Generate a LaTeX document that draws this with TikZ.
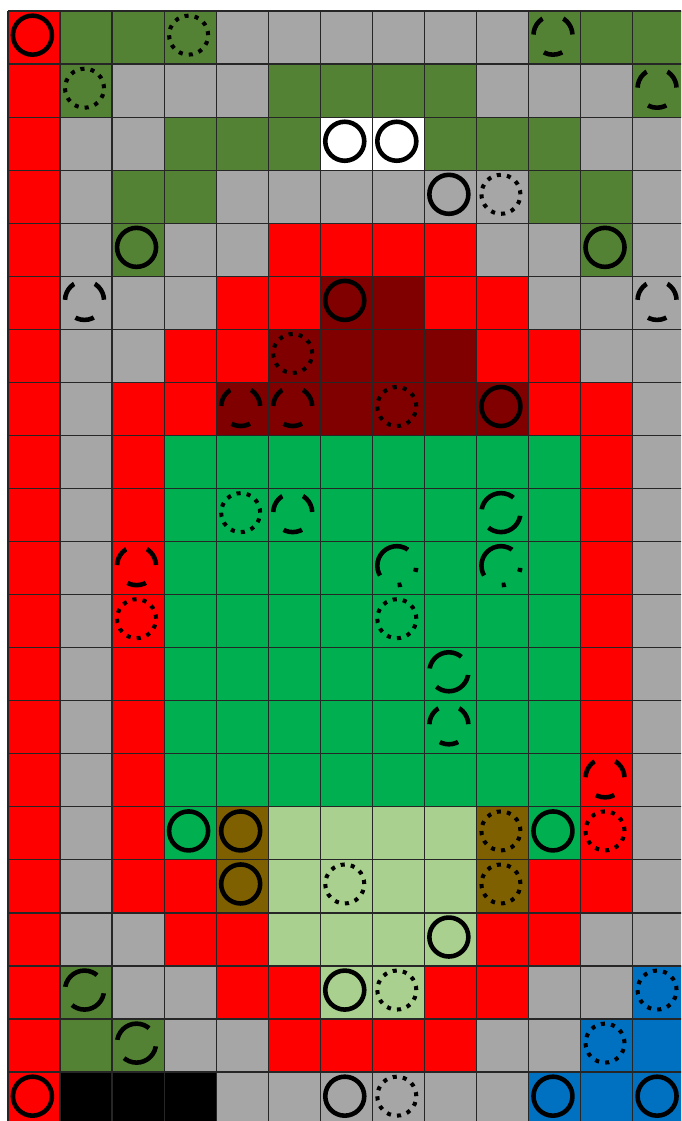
\documentclass[tikz,border=0pt]{standalone}
\usepackage{tikz}
\usepackage{xcolor}
\definecolor{cellred}{HTML}{FF0000}
\definecolor{cellgray}{HTML}{A6A6A6}
\definecolor{cellolive}{HTML}{548235}
\definecolor{cellgreen}{HTML}{00B050}
\definecolor{celllight}{HTML}{A9D08E}
\definecolor{cellmaroon}{HTML}{800000}
\definecolor{cellbrown}{HTML}{7F6000}
\definecolor{cellblue}{HTML}{0070C0}
\tikzset{
  every picture/.style={line join=round},
  gridline/.style={line width=0.35pt, black!85},
  ring/.style={line width=1.3pt},
  dotring/.style={line width=1.15pt, dash pattern=on 0.0408cm off 0.0613cm},
  tripring/.style={line width=1.3pt, dash pattern=on 0.1906cm off 0.2178cm, dash phase=0.4016cm},
  splitring/.style={line width=1.3pt, dash pattern=on 0.4084cm off 0.2042cm, dash phase=0.4424cm},
  dotdashring/.style={line width=1.3pt, dash pattern=on 0.5275cm off 0.2110cm on 0.0408cm off 0.1940cm on 0.0408cm off 0.2110cm, dash phase=1.0380cm},
}

\begin{document}
\begin{tikzpicture}[x=0.5205cm,y=-0.5305cm]
\useasboundingbox (-0.1537,-0.2074) rectangle (12.930,20.923);
\fill[white] (-0.1537,-0.2074) rectangle (12.930,20.923);
\clip (-0.1537,-0.2074) rectangle (12.930,20.923);
\fill[cellgray] (0,0) rectangle (13,21);
\fill[cellred] (0,0) rectangle (1,21)
(5,4) rectangle (9,5)
(4,5) rectangle (6,6) (8,5) rectangle (10,6)
(3,6) rectangle (5,7) (9,6) rectangle (11,7)
(2,7) rectangle (4,8) (10,7) rectangle (12,8)
(2,8) rectangle (3,17) (11,8) rectangle (12,16)
(3,16) rectangle (4,17) (10,16) rectangle (12,17)
(3,17) rectangle (5,18) (9,17) rectangle (11,18)
(4,18) rectangle (6,19) (8,18) rectangle (10,19)
(5,19) rectangle (9,20);
\fill[cellolive] (1,0) rectangle (4,1) (10,0) rectangle (13,1)
(1,1) rectangle (2,2) (5,1) rectangle (9,2) (12,1) rectangle (13,2)
(3,2) rectangle (6,3) (8,2) rectangle (11,3)
(2,3) rectangle (4,4) (10,3) rectangle (12,4)
(2,4) rectangle (3,5) (11,4) rectangle (12,5)
(1,18) rectangle (2,19)
(1,19) rectangle (3,20);
\fill[white] (6,2) rectangle (8,3);
\fill[cellmaroon] (6,5) rectangle (8,6)
(5,6) rectangle (9,7)
(4,7) rectangle (10,8);
\fill[cellgreen] (3,8) rectangle (11,15)
(3,15) rectangle (4,16) (10,15) rectangle (11,16);
\fill[celllight] (5,15) rectangle (9,18)
(6,18) rectangle (8,19);
\fill[cellbrown] (4,15) rectangle (5,17)
(9,15) rectangle (10,17);
\fill[cellblue] (12,18) rectangle (13,19)
(11,19) rectangle (13,20)
(10,20) rectangle (13,21);
\fill[black] (1,20) rectangle (4,21);
\foreach \c in {0,...,13} \draw[gridline] (\c,0) -- (\c,21);
\foreach \r in {0,...,21} \draw[gridline] (0,\r) -- (13,\r);
\begin{scope}[shift={(-0.03,-0.045)}]
\draw[ring] (0.5,0.5) circle[radius=0.195cm]
(6.5,2.5) circle[radius=0.195cm]
(7.5,2.5) circle[radius=0.195cm]
(8.5,3.5) circle[radius=0.195cm]
(2.5,4.5) circle[radius=0.195cm]
(11.5,4.5) circle[radius=0.195cm]
(6.5,5.5) circle[radius=0.195cm]
(9.5,7.5) circle[radius=0.195cm]
(3.5,15.5) circle[radius=0.195cm]
(4.5,15.5) circle[radius=0.195cm]
(10.5,15.5) circle[radius=0.195cm]
(4.5,16.5) circle[radius=0.195cm]
(8.5,17.5) circle[radius=0.195cm]
(6.5,18.5) circle[radius=0.195cm]
(0.5,20.5) circle[radius=0.195cm]
(1.5,20.5) circle[radius=0.195cm]
(3.5,20.5) circle[radius=0.195cm]
(6.5,20.5) circle[radius=0.195cm]
(10.5,20.5) circle[radius=0.195cm]
(12.5,20.5) circle[radius=0.195cm];
\draw[dotring] (3.5,0.5) circle[radius=0.195cm]
(1.5,1.5) circle[radius=0.195cm]
(9.5,3.5) circle[radius=0.195cm]
(5.5,6.5) circle[radius=0.195cm]
(7.5,7.5) circle[radius=0.195cm]
(4.5,9.5) circle[radius=0.195cm]
(7.5,11.5) circle[radius=0.195cm]
(2.5,11.5) circle[radius=0.195cm]
(9.5,15.5) circle[radius=0.195cm]
(11.5,15.5) circle[radius=0.195cm]
(6.5,16.5) circle[radius=0.195cm]
(9.5,16.5) circle[radius=0.195cm]
(7.5,18.5) circle[radius=0.195cm]
(12.5,18.5) circle[radius=0.195cm]
(11.5,19.5) circle[radius=0.195cm]
(7.5,20.5) circle[radius=0.195cm];
\draw[tripring] (10.5,0.5) circle[radius=0.195cm]
(12.5,1.5) circle[radius=0.195cm]
(1.5,5.5) circle[radius=0.195cm]
(12.5,5.5) circle[radius=0.195cm]
(4.5,7.5) circle[radius=0.195cm]
(5.5,7.5) circle[radius=0.195cm]
(5.5,9.5) circle[radius=0.195cm]
(2.5,10.5) circle[radius=0.195cm]
(8.5,13.5) circle[radius=0.195cm]
(11.5,14.5) circle[radius=0.195cm];
\draw[splitring] (9.5,9.5) circle[radius=0.195cm]
(8.5,12.5) circle[radius=0.195cm]
(1.5,18.5) circle[radius=0.195cm]
(2.5,19.5) circle[radius=0.195cm];
\draw[dotdashring] (7.5,10.5) circle[radius=0.195cm]
(9.5,10.5) circle[radius=0.195cm];
\end{scope}
\end{tikzpicture}
\end{document}
